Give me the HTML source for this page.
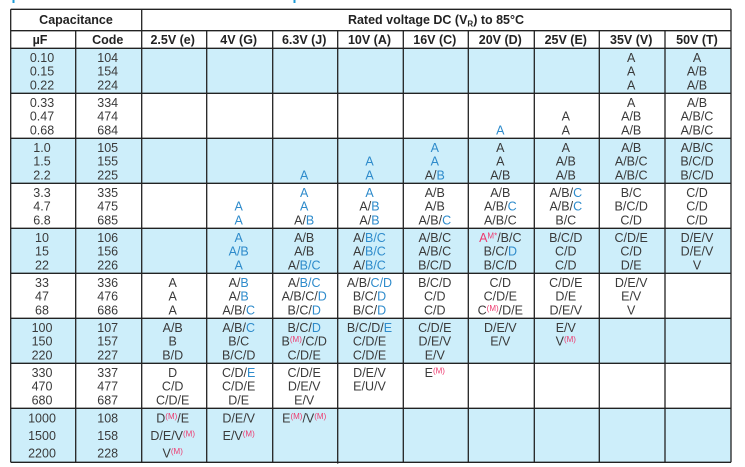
<!DOCTYPE html>
<html><head><meta charset="utf-8"><style>
html,body{margin:0;padding:0;background:#fff;}
svg{display:block;}
text{font-family:"Liberation Sans",Arial,sans-serif;font-size:12.5px;fill:#3a3a3a;}
.h{font-weight:bold;fill:#222;}
.b{fill:#2e8bcb;}
.r{fill:#ee3a6f;}
.m{fill:#ee3a6f;font-size:8px;}
</style></head><body>
<svg width="745" height="467" viewBox="0 0 745 467" xmlns="http://www.w3.org/2000/svg">
<rect x="12.5" y="0" width="2" height="3" fill="#1e9bd7"/>
<rect x="293.5" y="0" width="2" height="3" fill="#1e9bd7"/>
<g fill="#cdeefa">
<rect x="10.7" y="48.3" width="720.3" height="45"/>
<rect x="10.7" y="138.3" width="720.3" height="45"/>
<rect x="10.7" y="228.3" width="720.3" height="45"/>
<rect x="10.7" y="318.3" width="720.3" height="45"/>
<rect x="10.7" y="408.3" width="720.3" height="54"/>
</g>
<g stroke="#222" stroke-width="1.3" fill="none">
<line x1="10.7" y1="9.3" x2="731" y2="9.3"/>
<line x1="10.7" y1="30.7" x2="731" y2="30.7"/>
<line x1="10.7" y1="48.3" x2="731" y2="48.3"/>
<line x1="10.7" y1="93.3" x2="731" y2="93.3"/>
<line x1="10.7" y1="138.3" x2="731" y2="138.3"/>
<line x1="10.7" y1="183.3" x2="731" y2="183.3"/>
<line x1="10.7" y1="228.3" x2="731" y2="228.3"/>
<line x1="10.7" y1="273.3" x2="731" y2="273.3"/>
<line x1="10.7" y1="318.3" x2="731" y2="318.3"/>
<line x1="10.7" y1="363.3" x2="731" y2="363.3"/>
<line x1="10.7" y1="408.3" x2="731" y2="408.3"/>
<line x1="10.7" y1="462.3" x2="731" y2="462.3"/>
<line x1="10.7" y1="9.3" x2="10.7" y2="462.3"/>
<line x1="141.7" y1="9.3" x2="141.7" y2="462.3"/>
<line x1="731" y1="9.3" x2="731" y2="462.3"/>
<line x1="75.7" y1="30.7" x2="75.7" y2="462.3"/>
<line x1="206.7" y1="30.7" x2="206.7" y2="462.3"/>
<line x1="272.7" y1="30.7" x2="272.7" y2="462.3"/>
<line x1="337.7" y1="30.7" x2="337.7" y2="463.6"/>
<line x1="403.3" y1="30.7" x2="403.3" y2="462.3"/>
<line x1="468.3" y1="30.7" x2="468.3" y2="462.3"/>
<line x1="534.3" y1="30.7" x2="534.3" y2="462.3"/>
<line x1="599.3" y1="30.7" x2="599.3" y2="462.3"/>
<line x1="665" y1="30.7" x2="665" y2="462.3"/>
</g>
<g text-anchor="middle">
<text class="h" x="76" y="24">Capacitance</text>
<text class="h" x="436" y="24">Rated voltage DC (V<tspan font-size="8" dy="2.5">R</tspan><tspan dy="-2.5">) to 85°C</tspan></text>
<text class="h" x="40" y="44">µF</text>
<text class="h" x="107.7" y="44">Code</text>
<text class="h" x="172.7" y="44">2.5V (e)</text>
<text class="h" x="238.7" y="44">4V (G)</text>
<text class="h" x="304.2" y="44">6.3V (J)</text>
<text class="h" x="369.5" y="44">10V (A)</text>
<text class="h" x="434.8" y="44">16V (C)</text>
<text class="h" x="500.3" y="44">20V (D)</text>
<text class="h" x="565.8" y="44">25V (E)</text>
<text class="h" x="631.2" y="44">35V (V)</text>
<text class="h" x="697" y="44">50V (T)</text>
</g>
<g text-anchor="middle">
<text x="42" y="61.8">0.10</text><text x="107.7" y="61.8">104</text>
<text x="42" y="75.7">0.15</text><text x="107.7" y="75.7">154</text>
<text x="42" y="89.6">0.22</text><text x="107.7" y="89.6">224</text>
<text x="631.2" y="61.8">A</text><text x="631.2" y="75.7">A</text><text x="631.2" y="89.6">A</text>
<text x="697" y="61.8">A</text><text x="697" y="75.7">A/B</text><text x="697" y="89.6">A/B</text>
<text x="42" y="106.8">0.33</text><text x="107.7" y="106.8">334</text>
<text x="42" y="120.7">0.47</text><text x="107.7" y="120.7">474</text>
<text x="42" y="134.6">0.68</text><text x="107.7" y="134.6">684</text>
<text x="500.3" y="134.6" class="b">A</text>
<text x="565.8" y="120.7">A</text><text x="565.8" y="134.6">A</text>
<text x="631.2" y="106.8">A</text><text x="631.2" y="120.7">A/B</text><text x="631.2" y="134.6">A/B</text>
<text x="697" y="106.8">A/B</text><text x="697" y="120.7">A/B/C</text><text x="697" y="134.6">A/B/C</text>
<text x="42" y="151.8">1.0</text><text x="107.7" y="151.8">105</text>
<text x="42" y="165.7">1.5</text><text x="107.7" y="165.7">155</text>
<text x="42" y="179.6">2.2</text><text x="107.7" y="179.6">225</text>
<text x="304.2" y="179.6" class="b">A</text>
<text x="369.5" y="165.7" class="b">A</text><text x="369.5" y="179.6" class="b">A</text>
<text x="434.8" y="151.8" class="b">A</text><text x="434.8" y="165.7" class="b">A</text><text x="434.8" y="179.6">A/<tspan class="b">B</tspan></text>
<text x="500.3" y="151.8">A</text><text x="500.3" y="165.7">A</text><text x="500.3" y="179.6">A/B</text>
<text x="565.8" y="151.8">A</text><text x="565.8" y="165.7">A/B</text><text x="565.8" y="179.6">A/B</text>
<text x="631.2" y="151.8">A/B</text><text x="631.2" y="165.7">A/B/C</text><text x="631.2" y="179.6">A/B/C</text>
<text x="697" y="151.8">A/B/C</text><text x="697" y="165.7">B/C/D</text><text x="697" y="179.6">B/C/D</text>
<text x="42" y="196.8">3.3</text><text x="107.7" y="196.8">335</text>
<text x="42" y="210.7">4.7</text><text x="107.7" y="210.7">475</text>
<text x="42" y="224.6">6.8</text><text x="107.7" y="224.6">685</text>
<text x="238.7" y="210.7" class="b">A</text><text x="238.7" y="224.6" class="b">A</text>
<text x="304.2" y="196.8" class="b">A</text><text x="304.2" y="210.7" class="b">A</text><text x="304.2" y="224.6">A/<tspan class="b">B</tspan></text>
<text x="369.5" y="196.8" class="b">A</text><text x="369.5" y="210.7">A/<tspan class="b">B</tspan></text><text x="369.5" y="224.6">A/<tspan class="b">B</tspan></text>
<text x="434.8" y="196.8">A/B</text><text x="434.8" y="210.7">A/B</text><text x="434.8" y="224.6">A/B/<tspan class="b">C</tspan></text>
<text x="500.3" y="196.8">A/B</text><text x="500.3" y="210.7">A/B/<tspan class="b">C</tspan></text><text x="500.3" y="224.6">A/B/C</text>
<text x="565.8" y="196.8">A/B/<tspan class="b">C</tspan></text><text x="565.8" y="210.7">A/B/<tspan class="b">C</tspan></text><text x="565.8" y="224.6">B/C</text>
<text x="631.2" y="196.8">B/C</text><text x="631.2" y="210.7">B/C/D</text><text x="631.2" y="224.6">C/D</text>
<text x="697" y="196.8">C/D</text><text x="697" y="210.7">C/D</text><text x="697" y="224.6">C/D</text>
<text x="42" y="241.8">10</text><text x="107.7" y="241.8">106</text>
<text x="42" y="255.7">15</text><text x="107.7" y="255.7">156</text>
<text x="42" y="269.6">22</text><text x="107.7" y="269.6">226</text>
<text x="238.7" y="241.8" class="b">A</text><text x="238.7" y="255.7" class="b">A/B</text><text x="238.7" y="269.6" class="b">A</text>
<text x="304.2" y="241.8">A/B</text><text x="304.2" y="255.7">A/B</text><text x="304.2" y="269.6">A/<tspan class="b">B/C</tspan></text>
<text x="369.5" y="241.8">A/<tspan class="b">B/C</tspan></text><text x="369.5" y="255.7">A/<tspan class="b">B/C</tspan></text><text x="369.5" y="269.6">A/<tspan class="b">B/C</tspan></text>
<text x="434.8" y="241.8">A/B/C</text><text x="434.8" y="255.7">A/B/C</text><text x="434.8" y="269.6">B/C/D</text>
<text x="500.3" y="241.8"><tspan class="r">A</tspan><tspan class="m" dy="-3.5">M*</tspan><tspan dy="3.5">/B/C</tspan></text><text x="500.3" y="255.7">B/C/<tspan class="b">D</tspan></text><text x="500.3" y="269.6">B/C/D</text>
<text x="565.8" y="241.8">B/C/D</text><text x="565.8" y="255.7">C/D</text><text x="565.8" y="269.6">C/D</text>
<text x="631.2" y="241.8">C/D/E</text><text x="631.2" y="255.7">C/D</text><text x="631.2" y="269.6">D/E</text>
<text x="697" y="241.8">D/E/V</text><text x="697" y="255.7">D/E/V</text><text x="697" y="269.6">V</text>
<text x="42" y="286.8">33</text><text x="107.7" y="286.8">336</text>
<text x="42" y="300.7">47</text><text x="107.7" y="300.7">476</text>
<text x="42" y="314.6">68</text><text x="107.7" y="314.6">686</text>
<text x="172.7" y="286.8">A</text><text x="172.7" y="300.7">A</text><text x="172.7" y="314.6">A</text>
<text x="238.7" y="286.8">A/<tspan class="b">B</tspan></text><text x="238.7" y="300.7">A/<tspan class="b">B</tspan></text><text x="238.7" y="314.6">A/B/<tspan class="b">C</tspan></text>
<text x="304.2" y="286.8">A/<tspan class="b">B/C</tspan></text><text x="304.2" y="300.7">A/B/C/<tspan class="b">D</tspan></text><text x="304.2" y="314.6">B/C/<tspan class="b">D</tspan></text>
<text x="369.5" y="286.8">A/B/<tspan class="b">C/D</tspan></text><text x="369.5" y="300.7">B/C/<tspan class="b">D</tspan></text><text x="369.5" y="314.6">B/C/<tspan class="b">D</tspan></text>
<text x="434.8" y="286.8">B/C/D</text><text x="434.8" y="300.7">C/D</text><text x="434.8" y="314.6">C/D</text>
<text x="500.3" y="286.8">C/D</text><text x="500.3" y="300.7">C/D/E</text><text x="500.3" y="314.6">C<tspan class="m" dy="-3.5">(M)</tspan><tspan dy="3.5">/D/E</tspan></text>
<text x="565.8" y="286.8">C/D/E</text><text x="565.8" y="300.7">D/E</text><text x="565.8" y="314.6">D/E/V</text>
<text x="631.2" y="286.8">D/E/V</text><text x="631.2" y="300.7">E/V</text><text x="631.2" y="314.6">V</text>
<text x="42" y="331.8">100</text><text x="107.7" y="331.8">107</text>
<text x="42" y="345.7">150</text><text x="107.7" y="345.7">157</text>
<text x="42" y="359.6">220</text><text x="107.7" y="359.6">227</text>
<text x="172.7" y="331.8">A/B</text><text x="172.7" y="345.7">B</text><text x="172.7" y="359.6">B/D</text>
<text x="238.7" y="331.8">A/B/<tspan class="b">C</tspan></text><text x="238.7" y="345.7">B/C</text><text x="238.7" y="359.6">B/C/D</text>
<text x="304.2" y="331.8">B/C/<tspan class="b">D</tspan></text><text x="304.2" y="345.7">B<tspan class="m" dy="-3.5">(M)</tspan><tspan dy="3.5">/C/D</tspan></text><text x="304.2" y="359.6">C/D/E</text>
<text x="369.5" y="331.8">B/C/D/<tspan class="b">E</tspan></text><text x="369.5" y="345.7">C/D/E</text><text x="369.5" y="359.6">C/D/E</text>
<text x="434.8" y="331.8">C/D/E</text><text x="434.8" y="345.7">D/E/V</text><text x="434.8" y="359.6">E/V</text>
<text x="500.3" y="331.8">D/E/V</text><text x="500.3" y="345.7">E/V</text>
<text x="565.8" y="331.8">E/V</text><text x="565.8" y="345.7">V<tspan class="m" dy="-3.5">(M)</tspan></text>
<text x="42" y="376.8">330</text><text x="107.7" y="376.8">337</text>
<text x="42" y="390.7">470</text><text x="107.7" y="390.7">477</text>
<text x="42" y="404.6">680</text><text x="107.7" y="404.6">687</text>
<text x="172.7" y="376.8">D</text><text x="172.7" y="390.7">C/D</text><text x="172.7" y="404.6">C/D/E</text>
<text x="238.7" y="376.8">C/D/<tspan class="b">E</tspan></text><text x="238.7" y="390.7">C/D/E</text><text x="238.7" y="404.6">D/E</text>
<text x="304.2" y="376.8">C/D/E</text><text x="304.2" y="390.7">D/E/V</text><text x="304.2" y="404.6">E/V</text>
<text x="369.5" y="376.8">D/E/V</text><text x="369.5" y="390.7">E/U/V</text>
<text x="434.8" y="376.8">E<tspan class="m" dy="-3.5">(M)</tspan></text>
<text x="42" y="422.3">1000</text><text x="107.7" y="422.3">108</text>
<text x="42" y="440">1500</text><text x="107.7" y="440">158</text>
<text x="42" y="457.7">2200</text><text x="107.7" y="457.7">228</text>
<text x="172.7" y="422.3">D<tspan class="m" dy="-3.5">(M)</tspan><tspan dy="3.5">/E</tspan></text>
<text x="172.7" y="440">D/E/V<tspan class="m" dy="-3.5">(M)</tspan></text>
<text x="172.7" y="457.7">V<tspan class="m" dy="-3.5">(M)</tspan></text>
<text x="238.7" y="422.3">D/E/V</text>
<text x="238.7" y="440">E/V<tspan class="m" dy="-3.5">(M)</tspan></text>
<text x="304.2" y="422.3">E<tspan class="m" dy="-3.5">(M)</tspan><tspan dy="3.5">/V</tspan><tspan class="m" dy="-3.5">(M)</tspan></text>
</g>
</svg>
</body></html>
